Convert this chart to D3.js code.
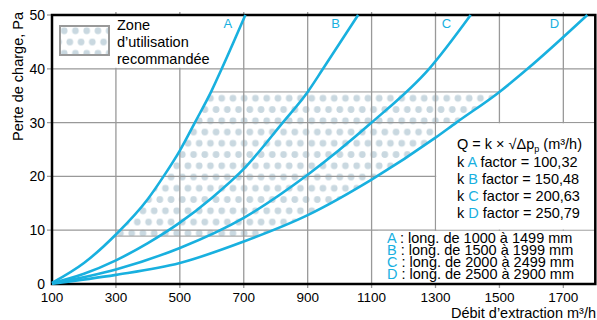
<!DOCTYPE html>
<html>
<head>
<meta charset="utf-8">
<script src="https://cdn.jsdelivr.net/npm/d3@7"></script>
<style>
body { margin: 0; background: #fff; }
svg { display: block; font-family: "Liberation Sans", Arial, sans-serif; }
</style>
</head>
<body>
<div id="container"></div>
<script>
// values: [debit m3/h, perte de charge Pa]
var curveNames = ['A', 'B', 'C', 'D'];
var curveA = [[100,0.2],[200,3.9],[300,9.2],[400,15.8],[449,20],[500,24.8],[547,30],[600,36],[631,40],[705,50]];
var curveB = [[100,0.15],[200,1.9],[300,4.4],[400,7.6],[500,11.4],[600,16],[700,21.4],[822,30],[900,35.7],[948,40],[1058,50]];
var curveC = [[100,0.1],[300,2.7],[500,6.7],[700,12.3],[900,20.3],[1100,30],[1280,40],[1410,50]];
var curveD = [[100,0.05],[300,1.7],[500,3.9],[700,7.9],[900,12.8],[1100,19.4],[1300,27.2],[1365,30],[1500,35.7],[1588,40],[1775,50]];
var curves = [curveA, curveB, curveC, curveD];
var kFactors = ['100,32', '150,48', '200,63', '250,79'];
var lengthRanges = ['1000 à 1499', '1500 à 1999', '2000 à 2499', '2500 à 2900'];
var labelAt = [[650,47.5],[987,47.5],[1334,47.5],[1672,47.5]];
var xTicks = [100, 300, 500, 700, 900, 1100, 1300, 1500, 1700];
var yTicks = [0, 10, 20, 30, 40, 50];
var zoneRange = [8.9, 35.7];

var width = 597, height = 320;
var blue = '#18b0df';
var x = d3.scaleLinear().domain([100, 1800]).range([52, 595.3]);
var y = d3.scaleLinear().domain([0, 50]).range([284, 15]);

var svg = d3.select('#container')
  .append('svg')
  .attr('width', width)
  .attr('height', height);

var defs = svg.append('defs');
var pat = defs.append('pattern')
  .attr('id', 'dots')
  .attr('patternUnits', 'userSpaceOnUse')
  .attr('x', 221.7).attr('y', 98.3)
  .attr('width', 11.25).attr('height', 22.5);
[[0,0],[11.25,0],[0,22.5],[11.25,22.5],[5.625,11.25]].forEach(function(p) {
  pat.append('circle').attr('cx', p[0]).attr('cy', p[1]).attr('r', 3.35).attr('fill', '#c9d8e0');
});

var line = d3.line()
  .x(function(d) { return x(d[0]); })
  .y(function(d) { return y(d[1]); })
  .curve(d3.curveMonotoneX);

// clip: right of curve A, and above curve D
defs.append('clipPath').attr('id', 'rightOfA')
  .append('path')
  .attr('d', line(curveA) + 'L' + x(1800) + ',' + y(50) + 'L' + x(1800) + ',' + y(0) + 'Z');
defs.append('clipPath').attr('id', 'aboveD')
  .append('path')
  .attr('d', line(curveD) + 'L' + x(1800) + ',' + y(50) + 'L' + x(100) + ',' + y(50) + 'Z');

// zone d'utilisation
svg.append('g').attr('clip-path', 'url(#rightOfA)')
  .append('g').attr('clip-path', 'url(#aboveD)')
  .append('rect')
  .attr('x', x(100)).attr('width', x(1800) - x(100))
  .attr('y', y(zoneRange[1])).attr('height', y(zoneRange[0]) - y(zoneRange[1]))
  .attr('fill', 'url(#dots)')
  .attr('stroke', '#a8a8a8')
  .attr('stroke-width', 1.2);

// grid
var grid = svg.append('g').attr('stroke', '#999').attr('stroke-width', 1.3);
grid.selectAll('.vx').data(xTicks.slice(1)).enter().append('line')
  .attr('x1', function(d) { return x(d); }).attr('x2', function(d) { return x(d); })
  .attr('y1', y(50) - 3).attr('y2', y(0) + 4);
grid.selectAll('.hy').data(yTicks.slice(1, 5)).enter().append('line')
  .attr('x1', x(100) - 5).attr('x2', x(1800))
  .attr('y1', function(d) { return y(d); }).attr('y2', function(d) { return y(d); });
grid.append('line').attr('x1', x(100) - 5).attr('x2', x(100))
  .attr('y1', y(50)).attr('y2', y(50));

// white boxes
svg.append('rect').attr('x', x(100) + 1).attr('y', y(50) + 1)
  .attr('width', 163).attr('height', y(40) - y(50) - 2).attr('fill', '#fff');
svg.append('rect').attr('x', x(1300) + 0.7).attr('y', y(30) + 0.7)
  .attr('width', x(1800) - x(1300)).attr('height', y(10) - y(30) - 1.4).attr('fill', '#fff');
svg.append('rect').attr('x', 378).attr('y', y(10) + 0.7)
  .attr('width', x(1800) - 378).attr('height', y(0) - y(10) - 1.4).attr('fill', '#fff');

// frame
svg.append('path')
  .attr('d', 'M' + x(100) + ',' + y(0) + 'V' + y(50) + 'H' + x(1800) + 'V' + y(0) + 'Z')
  .attr('fill', 'none').attr('stroke', '#000').attr('stroke-width', 2.5);

// tick labels
svg.append('g').selectAll('text').data(xTicks).enter().append('text')
  .attr('x', function(d) { return x(d); }).attr('y', 302)
  .attr('text-anchor', 'middle').attr('font-size', 13.5).text(function(d) { return d; });
svg.append('g').selectAll('text').data(yTicks).enter().append('text')
  .attr('x', 45).attr('y', function(d) { return y(d) + 5; })
  .attr('text-anchor', 'end').attr('font-size', 14).text(function(d) { return d; });

// axis titles
svg.append('text').attr('x', 596).attr('y', 318).attr('text-anchor', 'end')
  .attr('font-size', 14.5).text('Débit d’extraction m³/h');
svg.append('text').attr('transform', 'translate(23,12) rotate(-90)')
  .attr('text-anchor', 'end').attr('font-size', 14.5).text('Perte de charge, Pa');

// curves
svg.append('g').selectAll('path').data(curves).enter().append('path')
  .attr('d', line)
  .attr('fill', 'none').attr('stroke', blue).attr('stroke-width', 2.6);
svg.append('g').selectAll('text').data(curveNames).enter().append('text')
  .attr('x', function(d, i) { return x(labelAt[i][0]); })
  .attr('y', function(d, i) { return y(labelAt[i][1]); })
  .attr('text-anchor', 'middle').attr('font-size', 13).attr('fill', blue)
  .text(function(d) { return d; });

// legend swatch
svg.append('rect').attr('x', 60).attr('y', 26).attr('width', 49).attr('height', 29)
  .attr('fill', 'url(#dots)').attr('stroke', '#999').attr('stroke-width', 2);
var zl = svg.append('text').attr('font-size', 14.5);
['Zone', 'd’utilisation', 'recommandée'].forEach(function(t, i) {
  zl.append('tspan').attr('x', 117).attr('y', 30 + i * 17).text(t);
});

// formula box
var f = svg.append('text').attr('x', 457).attr('y', 149).attr('font-size', 14.5);
f.append('tspan').text('Q = k × √Δp');
f.append('tspan').attr('font-size', 9).attr('dy', 3).text('p');
f.append('tspan').attr('dy', -3).text(' (m³/h)');
curveNames.forEach(function(n, i) {
  var t = svg.append('text').attr('x', 457).attr('y', 167 + i * 17).attr('font-size', 14.5);
  t.append('tspan').text('k ');
  t.append('tspan').attr('fill', blue).text(n);
  t.append('tspan').text(' factor = ' + kFactors[i]);
});
curveNames.forEach(function(n, i) {
  var t = svg.append('text').attr('x', 387).attr('y', 243 + i * 12).attr('font-size', 14.5);
  t.append('tspan').attr('fill', blue).text(n);
  t.append('tspan').text(' : long. de ' + lengthRanges[i] + ' mm');
});
</script>
</body>
</html>
